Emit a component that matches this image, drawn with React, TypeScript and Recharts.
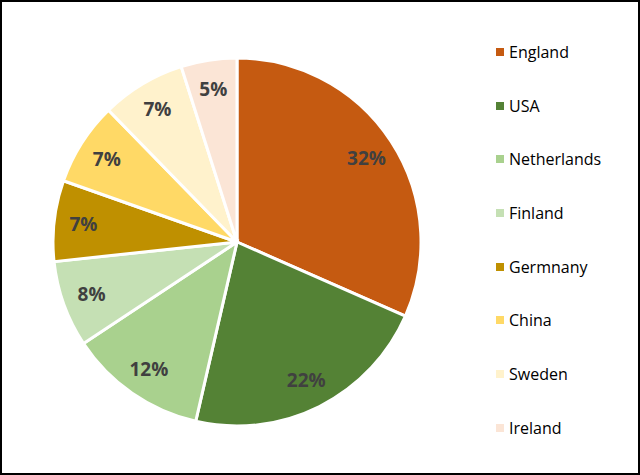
import { Cell, Legend, Pie, PieChart } from 'recharts'

const countries = ['England', 'USA', 'Netherlands', 'Finland', 'Germnany', 'China', 'Sweden', 'Ireland']
// shares; labels show them rounded
const shares = [31.6, 22.0, 12.1, 7.6, 7.1, 7.3, 7.4, 4.9]
const colors = ['#C55A11', '#548235', '#A9D18E', '#C5E0B4', '#BF9000', '#FFD966', '#FFF2CC', '#FBE5D6']

const data = countries.map((name, i) => ({ name, value: shares[i] }))

const RADIAN = Math.PI / 180

const renderLabel = ({ cx, cy, midAngle, outerRadius, percent }: any) => {
  const r = outerRadius * 0.84
  const x = cx + r * Math.cos(-midAngle * RADIAN)
  const y = cy + r * Math.sin(-midAngle * RADIAN)
  return (
    <text x={x} y={y} fill="#404040" fontSize={19} fontWeight={700} textAnchor="middle" dominantBaseline="central">
      {`${Math.round(percent * 100)}%`}
    </text>
  )
}

// keep the legend in data order (recharts sorts payload by name otherwise)
const LegendList = () => (
  <div>
    {countries.map((name, i) => (
      <div key={name} style={{ height: 53.7, display: 'flex', alignItems: 'center' }}>
        <span style={{ width: 8, height: 8, background: colors[i], marginRight: 5, display: 'inline-block' }} />
        <span style={{ fontSize: 16, color: '#000' }}>{name}</span>
      </div>
    ))}
  </div>
)

export default function App() {
  return (
    <div
      style={{
        position: 'fixed',
        top: 0,
        left: 0,
        width: 640,
        height: 475,
        boxSizing: 'border-box',
        border: '2px solid #000',
        background: '#fff',
        fontFamily: '"Open Sans", sans-serif',
      }}
    >
      <PieChart width={636} height={471} margin={{ top: 0, right: 0, bottom: 0, left: 0 }}>
        <Pie
          data={data}
          dataKey="value"
          nameKey="name"
          cx={235}
          cy={240}
          outerRadius={184}
          startAngle={90}
          endAngle={-270}
          stroke="#fff"
          strokeWidth={3}
          label={renderLabel}
          labelLine={false}
          isAnimationActive={false}
        >
          {data.map((d, i) => (
            <Cell key={d.name} fill={colors[i]} />
          ))}
        </Pie>
        <Legend
          layout="vertical"
          verticalAlign="top"
          align="right"
          content={<LegendList />}
          wrapperStyle={{ left: 494, top: 23, width: 140 }}
        />
      </PieChart>
    </div>
  )
}
